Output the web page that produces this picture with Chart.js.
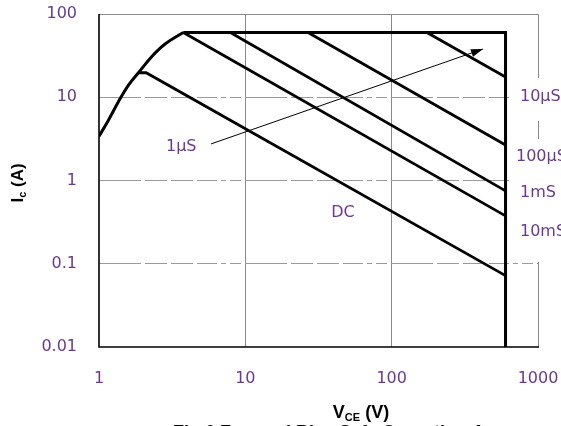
<!DOCTYPE html>
<html>
<head>
<meta charset="utf-8">
<script src="https://cdn.jsdelivr.net/npm/chart.js@4.4.0/dist/chart.umd.min.js"></script>
<style>
  html, body { margin: 0; padding: 0; background: #fff; }
  #wrap { width: 561px; height: 426px; position: relative; }
</style>
</head>
<body>
<div id="wrap"><canvas id="soaChart"></canvas></div>
<script>
var xTicks = [1, 10, 100, 1000];
var yTicks = [0.01, 0.1, 1, 10, 100];

// rising edge of the safe area (saturation), then 60 A flat, then 600 V wall
var curveV = [1, 1.16, 1.36, 1.59, 1.86, 2.29, 2.83, 3.77];
var curveI = [3.4, 5.3, 8.9, 14, 19.7, 30.7, 43.6, 60];
var limitV = [3.77, 600, 600];
var limitI = [60, 60, 0.01];

// pulse lines
var dcV = [1.86, 2.1, 600];
var dcI = [19.7, 19.7, 0.072];
var ms10V = [3.77, 600];
var ms10I = [60, 0.376];
var ms1V = [7.9, 600];
var ms1I = [60, 0.75];
var us100V = [26.8, 600];
var us100I = [60, 2.67];
var us10V = [174, 600];
var us10I = [60, 17.5];

var arrowV = [5.83, 421];
var arrowI = [2.75, 38];

var pulseLabels = ['10\u00b5S', '100\u00b5S', '1mS', '10mS'];

function pts(xs, ys) {
  return xs.map(function(x, i) { return { x: x, y: ys[i] }; });
}

var labelColor = '#6b3a8c';

var soaDecor = {
  id: 'soaDecor',
  afterDatasetsDraw: function(chart) {
    var ctx = chart.ctx;
    var a = chart.chartArea;
    var xs = chart.scales.x, ys = chart.scales.y;
    ctx.save();

    // arrow head
    var x1 = xs.getPixelForValue(arrowV[0]), y1 = ys.getPixelForValue(arrowI[0]);
    var x2 = xs.getPixelForValue(arrowV[1]), y2 = ys.getPixelForValue(arrowI[1]);
    var ang = Math.atan2(y2 - y1, x2 - x1);
    ctx.fillStyle = '#000';
    ctx.beginPath();
    ctx.moveTo(x2, y2);
    ctx.lineTo(x2 - 12 * Math.cos(ang) + 4 * Math.sin(ang), y2 - 12 * Math.sin(ang) - 4 * Math.cos(ang));
    ctx.lineTo(x2 - 12 * Math.cos(ang) - 4 * Math.sin(ang), y2 - 12 * Math.sin(ang) + 4 * Math.cos(ang));
    ctx.closePath();
    ctx.fill();

    // frame: grey top/right, black left/bottom
    ctx.strokeStyle = '#8a8a8a';
    ctx.lineWidth = 1;
    ctx.beginPath();
    ctx.moveTo(a.left, a.top + 0.5);
    ctx.lineTo(a.right + 0.5, a.top + 0.5);
    ctx.lineTo(a.right + 0.5, a.bottom);
    ctx.stroke();

    // white patches behind the pulse labels
    ctx.fillStyle = '#fff';
    ctx.fillRect(a.right - 28, a.top + 64, 60, 43);
    ctx.fillRect(a.right - 28, a.top + 125, 60, 123);

    ctx.strokeStyle = '#000';
    ctx.lineWidth = 1.6;
    ctx.beginPath();
    ctx.moveTo(a.left, a.top);
    ctx.lineTo(a.left, a.bottom);
    ctx.lineTo(a.right + 1, a.bottom);
    ctx.stroke();

    // labels
    ctx.fillStyle = labelColor;
    ctx.font = '16px "DejaVu Sans"';
    ctx.textBaseline = 'middle';
    ctx.textAlign = 'left';
    ctx.fillText(pulseLabels[0], a.right - 18, a.top + 83);
    ctx.fillText(pulseLabels[1], a.right - 22, a.top + 143);
    ctx.fillText(pulseLabels[2], a.right - 18, a.top + 179);
    ctx.fillText(pulseLabels[3], a.right - 18, a.top + 218);
    ctx.fillText('1\u00b5S', xs.getPixelForValue(2.87), ys.getPixelForValue(2.53));
    ctx.textAlign = 'center';
    ctx.fillText('DC', xs.getPixelForValue(46.5), ys.getPixelForValue(0.41));

    ctx.restore();
  },
  afterDraw: function(chart) {
    var ctx = chart.ctx;
    ctx.save();
    ctx.fillStyle = '#000';
    ctx.textBaseline = 'alphabetic';
    ctx.textAlign = 'left';

    // y title: I c (A), rotated
    ctx.translate(23, 183);
    ctx.rotate(-Math.PI / 2);
    var big = 'bold 17px "Liberation Sans"', small = 'bold 11px "Liberation Sans"';
    ctx.font = big; var w1 = ctx.measureText('I').width, w3 = ctx.measureText(' (A)').width;
    ctx.font = small; var w2 = ctx.measureText('c').width;
    var sx = -(w1 + w2 + w3) / 2;
    ctx.font = big; ctx.fillText('I', sx, 0);
    ctx.font = small; ctx.fillText('c', sx + w1, 3);
    ctx.font = big; ctx.fillText(' (A)', sx + w1 + w2, 0);
    ctx.setTransform(1, 0, 0, 1, 0, 0);

    // x title: V CE (V)
    big = 'bold 18px "Liberation Sans"'; small = 'bold 11px "Liberation Sans"';
    ctx.font = big; w1 = ctx.measureText('V').width; w3 = ctx.measureText(' (V)').width;
    ctx.font = small; w2 = ctx.measureText('CE').width;
    sx = 361 - (w1 + w2 + w3) / 2;
    ctx.font = big; ctx.fillText('V', sx, 418);
    ctx.font = small; ctx.fillText('CE', sx + w1, 421);
    ctx.font = big; ctx.fillText(' (V)', sx + w1 + w2, 418);

    // caption cut by the bottom edge
    ctx.font = 'bold 18px "Liberation Sans"';
    ctx.fillText('Fig.6 Forward Bias Safe Operating Area', 173, 438);
    ctx.restore();
  }
};

function edgeGrid(ticks, col) {
  return function(c) {
    var v = c.tick ? c.tick.value : null;
    return (v === ticks[0] || v === ticks[ticks.length - 1]) ? 'rgba(0,0,0,0)' : col;
  };
}

function noPad(s) {
  s.paddingTop = 0; s.paddingBottom = 0; s.paddingLeft = 0; s.paddingRight = 0;
}

var thick = { borderColor: '#000', borderWidth: 3, pointRadius: 0, showLine: true, fill: false };
function line(data, extra) {
  return Object.assign({ data: data }, thick, extra || {});
}

new Chart(document.getElementById('soaChart').getContext('2d'), {
  type: 'scatter',
  data: {
    datasets: [
      line(pts(curveV, curveI), { tension: 0.4 }),
      line(pts(limitV, limitI)),
      line(pts(dcV, dcI), { borderWidth: 2.8 }),
      line(pts(ms10V, ms10I), { borderWidth: 2.8 }),
      line(pts(ms1V, ms1I), { borderWidth: 2.8 }),
      line(pts(us100V, us100I), { borderWidth: 2.8 }),
      line(pts(us10V, us10I), { borderWidth: 2.8 }),
      line(pts(arrowV, arrowI), { borderWidth: 1 })
    ]
  },
  options: {
    responsive: true,
    maintainAspectRatio: false,
    animation: false,
    layout: { padding: { top: 14, right: 23, left: 0, bottom: 0 } },
    plugins: { legend: { display: false }, tooltip: { enabled: false } },
    scales: {
      x: {
        type: 'logarithmic',
        min: 1, max: 1000,
        afterBuildTicks: function(s) { s.ticks = xTicks.map(function(v) { return { value: v }; }); },
        afterFit: function(s) { s.height = 79; noPad(s); },
        grid: { color: edgeGrid(xTicks, '#8a8a8a'), lineWidth: 1, drawTicks: false },
        border: { display: false },
        ticks: {
          autoSkip: false, maxRotation: 0, padding: 22,
          color: labelColor, font: { family: 'DejaVu Sans', size: 16 },
          callback: function(v) { return String(v); }
        }
      },
      y: {
        type: 'logarithmic',
        min: 0.01, max: 100,
        afterBuildTicks: function(s) { s.ticks = yTicks.map(function(v) { return { value: v }; }); },
        afterFit: function(s) { s.width = 99; noPad(s); },
        grid: { color: edgeGrid(yTicks, '#9a9a9a'), lineWidth: 1, drawTicks: false },
        border: { display: false, dash: [42, 4, 22, 4, 22, 4, 20, 4, 5, 4, 11, 4] },
        ticks: {
          autoSkip: false, padding: 22,
          color: labelColor, font: { family: 'DejaVu Sans', size: 16 },
          callback: function(v) { return String(v); }
        }
      }
    }
  },
  plugins: [soaDecor]
});
</script>
</body>
</html>
